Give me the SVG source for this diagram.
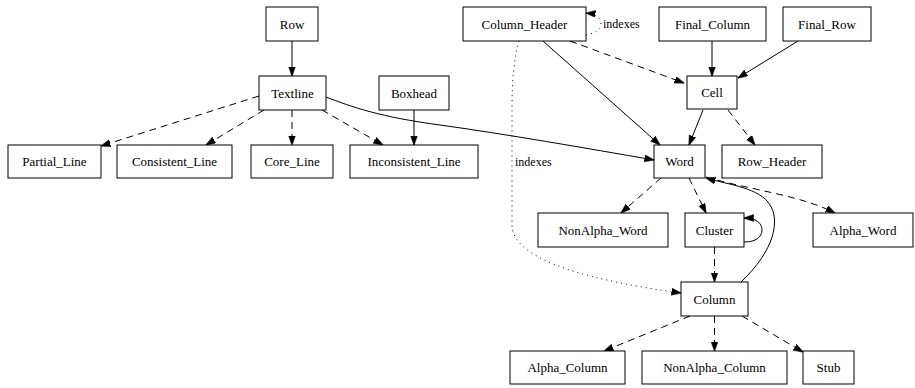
<svg xmlns="http://www.w3.org/2000/svg" width="915" height="388" viewBox="0 0 915 388">
<style>
.n rect{fill:#fff;stroke:#000;stroke-width:1}
.n text{font-family:"Liberation Serif","Times New Roman",serif;font-size:13px;fill:#000;text-anchor:middle}
.lbl{font-family:"Liberation Serif","Times New Roman",serif;font-size:12px;fill:#000}
.e{fill:none;stroke:#000;stroke-width:1;marker-end:url(#ah)}
.d{stroke-dasharray:7,5}
.o{stroke-dasharray:1,4}
</style>
<defs>
<marker id="ah" markerUnits="userSpaceOnUse" markerWidth="10" markerHeight="8" refX="9.5" refY="3.5" orient="auto">
<path d="M0,0 L10,3.5 L0,7 z" fill="#000" stroke="#000" stroke-width="0.5"/>
</marker>
</defs>
<rect width="915" height="388" fill="#fff"/>
<g id="connectors">
<path class="e" d="M292,41 L292,76"/>
<path class="e d" d="M259,96 L101,146"/>
<path class="e d" d="M264,110 L206,145"/>
<path class="e d" d="M292,110 L292,145"/>
<path class="e d" d="M322,110 L383,145"/>
<path class="e" d="M414,110 L414,145"/>
<path class="e" d="M326,97 C352,107 380,117 440,125 C505,134 585,148 654,160"/>
<path class="e o" d="M586,35 C596,33 601,29 601,24 C601,18 596,14 586,13"/>
<path class="e o" d="M519,41 C514,58 512,80 512,110 L512,225 C512,262 600,282 681,293"/>
<path class="e d" d="M570,41 L684,83"/>
<path class="e" d="M543,41 L660,145"/>
<path class="e" d="M712,41 L712,76"/>
<path class="e" d="M798,41 L738,78"/>
<path class="e" d="M703,110 L689,145"/>
<path class="e d" d="M728,110 L755,145"/>
<path class="e d" d="M661,178 L621,213"/>
<path class="e d" d="M689,178 L706,213"/>
<path class="e d" d="M706,177 C750,190 800,195 835,213"/>
<path class="e" d="M741,282 C775,250 780,220 770,205 C760,188 730,185 706,178"/>
<path class="e" d="M744,242 C756,242 762,237 762,230 C762,223 756,218 744,218"/>
<path class="e d" d="M714.5,247 L714.5,282"/>
<path class="e d" d="M690,316 L604,351"/>
<path class="e d" d="M714.5,316 L714.5,351"/>
<path class="e d" d="M742,316 L803,352"/>
</g>
<text class="lbl" x="603" y="28">indexes</text>
<text class="lbl" x="515" y="166">indexes</text>
<g id="Row" class="n"><rect x="266" y="7" width="52" height="34"/><text x="292" y="28.5">Row</text></g>
<g id="Textline" class="n"><rect x="259" y="76" width="67" height="34"/><text x="292.5" y="97.5">Textline</text></g>
<g id="Boxhead" class="n"><rect x="379" y="76" width="70" height="34"/><text x="414" y="97.5">Boxhead</text></g>
<g id="Partial_Line" class="n"><rect x="8" y="145" width="93" height="33"/><text x="54.5" y="166">Partial_Line</text></g>
<g id="Consistent_Line" class="n"><rect x="117" y="145" width="115" height="33"/><text x="174.5" y="166">Consistent_Line</text></g>
<g id="Core_Line" class="n"><rect x="251" y="145" width="82" height="33"/><text x="292" y="166">Core_Line</text></g>
<g id="Inconsistent_Line" class="n"><rect x="350" y="145" width="128" height="33"/><text x="414" y="166">Inconsistent_Line</text></g>
<g id="Column_Header" class="n"><rect x="463" y="7" width="123" height="34"/><text x="524.5" y="28.5">Column_Header</text></g>
<g id="Final_Column" class="n"><rect x="659" y="7" width="107" height="34"/><text x="712.5" y="28.5">Final_Column</text></g>
<g id="Final_Row" class="n"><rect x="783" y="7" width="88" height="34"/><text x="827" y="28.5">Final_Row</text></g>
<g id="Cell" class="n"><rect x="687" y="76" width="50" height="33"/><text x="712" y="97">Cell</text></g>
<g id="Word" class="n"><rect x="654" y="145" width="51" height="33"/><text x="679.5" y="166">Word</text></g>
<g id="Row_Header" class="n"><rect x="722" y="145" width="100" height="33"/><text x="772" y="166">Row_Header</text></g>
<g id="NonAlpha_Word" class="n"><rect x="538" y="213" width="130" height="34"/><text x="603" y="234.5">NonAlpha_Word</text></g>
<g id="Cluster" class="n"><rect x="685" y="213" width="59" height="34"/><text x="714.5" y="234.5">Cluster</text></g>
<g id="Alpha_Word" class="n"><rect x="813" y="213" width="100" height="34"/><text x="863" y="234.5">Alpha_Word</text></g>
<g id="Column" class="n"><rect x="681" y="282" width="67" height="34"/><text x="714.5" y="303.5">Column</text></g>
<g id="Alpha_Column" class="n"><rect x="510" y="351" width="115" height="33"/><text x="567.5" y="372">Alpha_Column</text></g>
<g id="NonAlpha_Column" class="n"><rect x="642" y="351" width="145" height="33"/><text x="714.5" y="372">NonAlpha_Column</text></g>
<g id="Stub" class="n"><rect x="803" y="351" width="51" height="33"/><text x="828.5" y="372">Stub</text></g>
</svg>
